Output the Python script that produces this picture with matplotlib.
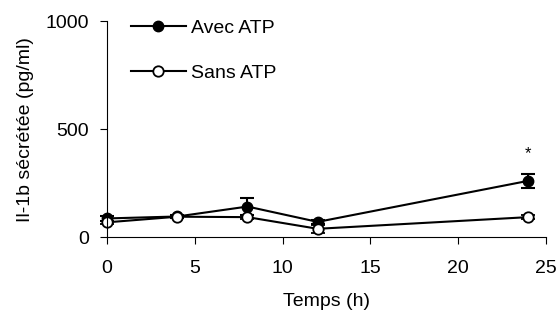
import matplotlib
matplotlib.use("Agg")
import matplotlib.pyplot as plt
from matplotlib.lines import Line2D

plt.rcParams['font.family'] = ['Liberation Sans', 'DejaVu Sans']

temps = [0, 4, 8, 12, 24]
avec_atp = [88, 97, 143, 72, 262]
avec_err = [10, 8, 40, 10, 33]
sans_atp = [70, 96, 94, 40, 94]
sans_err = [8, 8, 8, 18, 10]

fig = plt.figure(figsize=(5.58, 3.2), dpi=100)
ax = fig.add_axes([0.192, 0.258, 0.786, 0.675])

styles = dict(color='black', marker='o', markersize=7.5, lw=1.5, capsize=5,
              elinewidth=1.5, capthick=1.5, clip_on=False)
ax.errorbar(temps, avec_atp, yerr=avec_err, markerfacecolor='black', **styles)
ax.errorbar(temps, sans_atp, yerr=sans_err, markerfacecolor='white',
            markeredgewidth=1.3, **styles)

ax.text(24, 390, '*', ha='center', va='center', fontsize=12)

ax.set_xlim(0, 25)
ax.set_ylim(0, 1000)
ax.set_xticks([0, 5, 10, 15, 20, 25])
ax.set_yticks([0, 500, 1000])
ax.spines['top'].set_visible(False)
ax.spines['right'].set_visible(False)
ax.tick_params(direction='out', length=5, labelsize=14)
ax.tick_params(axis='x', pad=11)
ax.tick_params(axis='y', pad=8)
ax.set_xlabel('Temps (h)', fontsize=14, labelpad=12)
ax.set_ylabel('Il-1b sécrétée (pg/ml)', fontsize=14, labelpad=8)

handles = [
    Line2D([], [], color='black', lw=1.5, marker='o', markersize=7.5,
           markerfacecolor='black'),
    Line2D([], [], color='black', lw=1.5, marker='o', markersize=7.5,
           markerfacecolor='white', markeredgewidth=1.3),
]
ax.legend(handles, ['Avec ATP', 'Sans ATP'], loc='upper left',
          bbox_to_anchor=(0.015, 1.09), frameon=False, fontsize=14,
          handlelength=2.8, labelspacing=1.4, handletextpad=0.3)

fig.savefig('out.png', dpi=100)
